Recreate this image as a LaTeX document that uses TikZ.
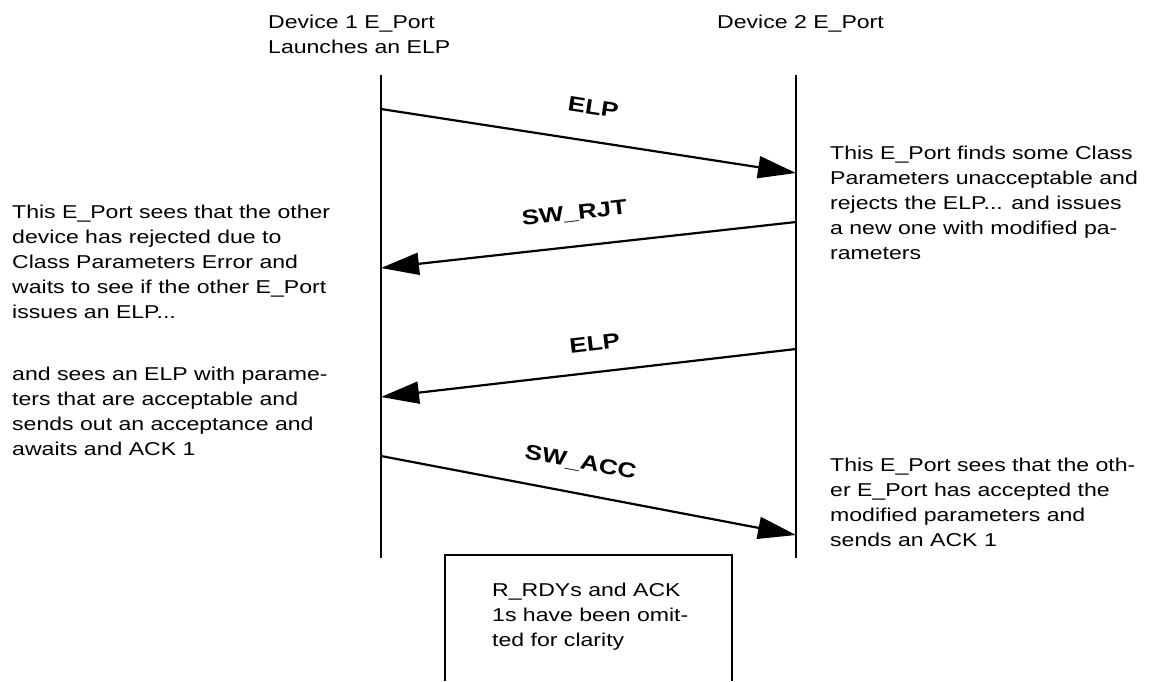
\documentclass[tikz,border=0pt]{standalone}
\usepackage{fontspec}
\setmainfont[FakeStretch=1.24]{Liberation Sans}
\usetikzlibrary{arrows.meta}
\begin{document}
\begin{tikzpicture}[x=1pt,y=-1pt,
  txt/.style={anchor=north west, inner sep=0pt, align=left, font=\fontsize{18.6}{25}\selectfont},
  lifeline/.style={line width=2.7pt},
  msg/.style={line width=2.2pt, -{Triangle[length=38pt,width=22pt]}},
  lbl/.style={font=\fontsize{21}{25}\selectfont\bfseries, inner sep=0pt, text depth=0pt, sloped, above=#1},
  frame/.style={line width=2.5pt}
]
\useasboundingbox (0,0) rectangle (1149,681);

% headers
\node[txt] (h1) at (268,14.4) {Device 1 E\_Port\\Launches an ELP};
\node[txt] (h2) at (717,14.4) {Device 2 E\_Port};

% lifelines
\coordinate (L1) at (381,75); \coordinate (L2) at (381,558);
\coordinate (R1) at (796,75); \coordinate (R2) at (796,558);
\draw[lifeline] (L1) -- (L2);
\draw[lifeline] (R1) -- (R2);

% message end points
\coordinate (a1) at (381,109); \coordinate (b1) at (796,173);
\coordinate (a2) at (796,222); \coordinate (b2) at (381,268);
\coordinate (a3) at (796,349); \coordinate (b3) at (381,397);
\coordinate (a4) at (381,456); \coordinate (b4) at (796,535);

\draw[msg] (a1) -- node[lbl=25.5pt, pos=0.499] {ELP} (b1);
\draw[msg] (a2) -- node[lbl=25.5pt, pos=0.525] {SW\_RJT} (b2);
\draw[msg] (a3) -- node[lbl=20.5pt, pos=0.477] {ELP} (b3);
\draw[msg] (a4) -- node[lbl=23.5pt, pos=0.467] {SW\_ACC} (b4);

% side texts
\node[txt] (lt1) at (12,204.4) {This E\_Port sees that the other\\device has rejected due to\\Class Parameters Error and\\waits to see if the other E\_Port\\issues an ELP...};
\node[txt] (lt2) at (12,366.4) {and sees an ELP with parame-\\ters that are acceptable and\\sends out an acceptance and\\awaits and ACK 1};
\node[txt] (rt1) at (830,145.4) {This E\_Port finds some Class\\Parameters unacceptable and\\rejects the ELP... and issues\\a new one with modified pa-\\rameters};
\node[txt] (rt2) at (830,457.4) {This E\_Port sees that the oth-\\er E\_Port has accepted the\\modified parameters and\\sends an ACK 1};

% note box (open at the bottom)
\node[txt] (note) at (492,582.4) {R\_RDYs and ACK\\1s have been omit-\\ted for clarity};
\coordinate (f1) at (445,681); \coordinate (f2) at (445,555);
\coordinate (f3) at (732,555); \coordinate (f4) at (732,681);
\draw[frame] (f1) -- (f2) -- (f3) -- (f4);
\end{tikzpicture}
\end{document}
